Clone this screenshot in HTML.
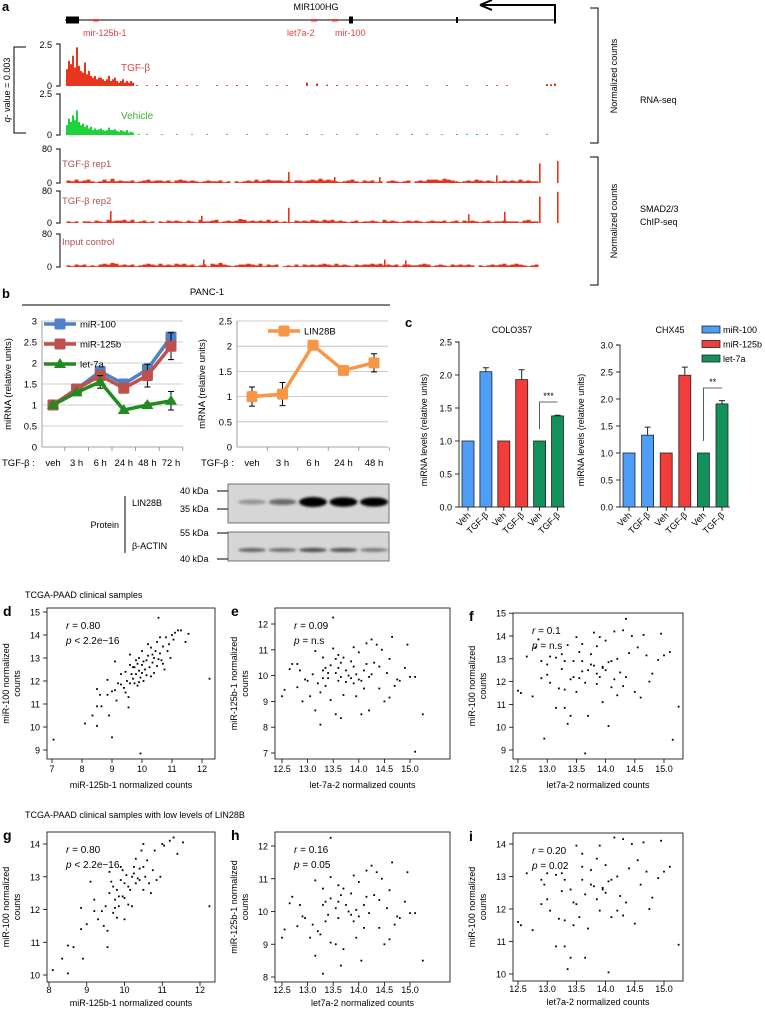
<!DOCTYPE html>
<html><head><meta charset="utf-8"><style>
html,body{margin:0;padding:0;background:#fff;}
svg{display:block;font-family:"Liberation Sans",Arial,sans-serif;}
text{font-family:"Liberation Sans",Arial,sans-serif;}
</style></head><body>
<svg id="fig" width="765" height="1010" viewBox="0 0 765 1010" xmlns="http://www.w3.org/2000/svg">
<defs><filter id="blur" x="-20%" y="-100%" width="140%" height="300%"><feGaussianBlur stdDeviation="1.3"/></filter></defs>

<g font-size="9">
<text x="2" y="11" font-size="13" font-weight="bold">a</text>
<text x="316" y="10" text-anchor="middle">MIR100HG</text>
<line x1="65" y1="20" x2="556" y2="20" stroke="#000" stroke-width="1"/>
<rect x="66" y="16.5" width="13" height="7" fill="#000"/>
<rect x="349" y="16.5" width="4" height="7" fill="#000"/>
<rect x="456" y="17" width="2" height="6" fill="#000"/>
<rect x="554" y="16.5" width="2" height="7" fill="#000"/>
<path d="M555 20 V5 H482" fill="none" stroke="#000" stroke-width="2"/>
<path d="M480 5 L492 0 M480 5 L492 10" stroke="#000" stroke-width="2" fill="none"/>
<rect x="93" y="19" width="6" height="2.5" fill="#e84040"/>
<rect x="311" y="19" width="6" height="2.5" fill="#e84040"/>
<rect x="332" y="19" width="6" height="2.5" fill="#e84040"/>
<text x="83" y="36" fill="#e84040">mir-125b-1</text>
<text x="287" y="36" fill="#e84040">let7a-2</text>
<text x="335" y="36" fill="#e84040">mir-100</text>
<path d="M56 44 H60 V86 H56 M56 94 H60 V135 H56" fill="none" stroke="#000"/>
<text x="52" y="48" text-anchor="end">2.5</text>
<text x="52" y="89" text-anchor="end">0</text>
<text x="52" y="97" text-anchor="end">2.5</text>
<text x="52" y="138" text-anchor="end">0</text>
<path d="M26 47 H14 V133 H26" fill="none" stroke="#000"/>
<text transform="translate(10,90) rotate(-90)" text-anchor="middle"><tspan font-style="italic">q</tspan>- value = 0.003</text>
<text x="121" y="71" fill="#e84040" font-size="10">TGF-β</text>
<text x="121" y="119" fill="#3cb431" font-size="10">Vehicle</text>
<path d="M56 149 H60 V183 H56 M56 191 H60 V223 H56 M56 234 H60 V267 H56" fill="none" stroke="#000"/>
<text x="52" y="152" text-anchor="end">80</text>
<text x="52" y="186" text-anchor="end">0</text>
<text x="52" y="194" text-anchor="end">80</text>
<text x="52" y="226" text-anchor="end">0</text>
<text x="52" y="237" text-anchor="end">80</text>
<text x="52" y="270" text-anchor="end">0</text>
<text x="62" y="167" fill="#b0504a" font-size="9.5">TGF-β rep1</text>
<text x="62" y="204" fill="#b0504a" font-size="9.5">TGF-β rep2</text>
<text x="62" y="245" fill="#b0504a" font-size="9.5">Input control</text>
<path d="M590 8 H598 V143 H590" fill="none" stroke="#000"/>
<path d="M590 157 H598 V285 H590" fill="none" stroke="#000"/>
<text transform="translate(617,76) rotate(-90)" text-anchor="middle">Normalized counts</text>
<text transform="translate(617,221) rotate(-90)" text-anchor="middle">Normalized counts</text>
<text x="640" y="103">RNA-seq</text>
<text x="640" y="212">SMAD2/3</text>
<text x="640" y="225">ChIP-seq</text>
</g>
<g id="tracks"></g>

<g font-size="9.5">
<text x="2" y="298" font-size="13" font-weight="bold">b</text>
<text x="207" y="295" text-anchor="middle">PANC-1</text>
<line x1="22" y1="305" x2="390" y2="305" stroke="#000"/>
<text transform="translate(11,384) rotate(-90)" text-anchor="middle">miRNA (relative units)</text>
<text transform="translate(205,384) rotate(-90)" text-anchor="middle">mRNA (relative units)</text>
<text x="2" y="466">TGF-β :</text>
<text x="201" y="466">TGF-β :</text>
</g>
<g id="bcharts" font-size="9.5"></g>

<g font-size="9">
<rect x="228" y="484" width="161" height="39" fill="#d6d6d6" stroke="#555" stroke-width="0.8"/>
<rect x="228" y="532" width="161" height="29" fill="#d6d6d6" stroke="#555" stroke-width="0.8"/>
<line x1="125" y1="496" x2="125" y2="553" stroke="#000"/>
<text x="119" y="528" text-anchor="end">Protein</text>
<text x="132" y="506">LIN28B</text>
<text x="132" y="549">β-ACTIN</text>
<text x="180" y="494">40 kDa</text>
<text x="180" y="512">35 kDa</text>
<text x="180" y="536">55 kDa</text>
<text x="180" y="562">40 kDa</text>
<path d="M217 491 H228 M217 509 H228 M217 533 H228 M217 559 H228" stroke="#000"/>
</g>
<g id="bands"></g>

<g font-size="9">
<text x="405" y="327" font-size="13" font-weight="bold">c</text>
<text x="512" y="333" text-anchor="middle">COLO357</text>
<text x="670" y="333" text-anchor="middle">CHX45</text>
<text transform="translate(427,430) rotate(-90)" text-anchor="middle">miRNA levels (relative units)</text>
<text transform="translate(584,430) rotate(-90)" text-anchor="middle">miRNA levels (relative units)</text>
</g>
<g id="ccharts" font-size="9"></g>

<g font-size="9">
<text x="25" y="598">TCGA-PAAD clinical samples</text>
<text x="25" y="818">TCGA-PAAD clinical samples with low levels of LIN28B</text>
</g>
<g id="scatters" font-size="9"></g>
</svg>

<script>
// ===== DATA =====
const tgfPos = [0,2,4,6,8,10,12,14,16,18,20,22,24,26,28,30,32,34,36,38,40,42,44,46,48,50,52,54,56,58,60,62,64,66];
const tgfVal = [1.0,1.5,1.3,1.8,1.1,2.3,1.2,0.9,0.8,1.4,0.7,0.9,0.6,0.5,0.6,0.4,0.5,0.5,0.4,0.3,0.4,0.6,0.3,0.4,0.5,0.3,0.2,0.3,0.4,0.2,0.3,0.2,0.3,0.2];
const tgfSparsePos = [70,80,90,100,110,120,130,150,160,170,180,200,210,220,240,250,260,270,280,290,300,310,320,330,340,360,380,400,420,430,440,480,484,488];
const tgfSparseVal = [0.05,0.05,0.06,0.05,0.05,0.05,0.04,0.05,0.05,0.06,0.05,0.05,0.04,0.05,0.2,0.15,0.08,0.06,0.05,0.05,0.05,0.04,0.05,0.05,0.05,0.04,0.05,0.04,0.05,0.05,0.05,0.12,0.1,0.15];
const vehPos = [0,2,4,6,8,10,12,14,16,18,20,22,24,26,28,30,32,34,36,38,40,42,44,46,48,50,52,54,56,58,60,62,64,66];
const vehVal = [0.6,1.0,0.8,1.2,0.9,1.5,0.8,0.6,0.7,0.5,0.6,0.4,0.5,0.3,0.4,0.3,0.35,0.4,0.3,0.25,0.3,0.45,0.3,0.3,0.35,0.25,0.2,0.3,0.25,0.2,0.3,0.15,0.2,0.15];
const vehSparsePos = [72,80,95,110,125,140,160,180,200,220,240,255,270,290,310,330,345,360,375,390,400,410,420,435,450,480];
const vehSparseVal = [0.05,0.05,0.05,0.05,0.04,0.05,0.05,0.04,0.05,0.05,0.06,0.05,0.05,0.05,0.05,0.05,0.06,0.05,0.05,0.06,0.05,0.06,0.05,0.05,0.05,0.05];
const rep1Noise = "3242342124252322312342332313432321232231202123242343332313323435343212342132312023212302324443543212324323212323242322";
const rep2Noise = "2120221321423342412312021323213214223412323542323242312113232432434232123122321423212323212322312313232123122322213422";
const inputNoise = "2132312134354232312343242324342312314353212334324132301213132323432423213233434232313322343123213232320212323423432123";
const rep1PeakPos = [222,268,313,430,473,491];
const rep1PeakVal = [26,14,14,18,46,52];
const rep2PeakPos = [44,135,222,402,438,473,491];
const rep2PeakVal = [30,18,38,22,28,66,78];
const inputPeakPos = [137,318,339];
const inputPeakVal = [18,18,16];

const bTimesL = ["veh","3 h","6 h","24 h","48 h","72 h"];
const mir100 = [1.0,1.38,1.8,1.5,1.85,2.62];
const mir100Err = [0,0.03,0.1,0.05,0.12,0.08];
const mir125b = [1.0,1.38,1.7,1.4,1.7,2.4];
const mir125bErr = [0,0.05,0.1,0.06,0.27,0.32];
const let7a = [1.0,1.3,1.55,0.88,1.0,1.1];
const let7aErr = [0,0.04,0.15,0.03,0.05,0.22];
const bTicksL = [0,0.5,1,1.5,2,2.5,3];
const bTimesR = ["veh","3 h","6 h","24 h","48 h"];
const lin28b = [1.0,1.05,2.02,1.52,1.67];
const lin28bErr = [0.19,0.23,0.06,0.03,0.18];
const bTicksR = [0,0.5,1,1.5,2,2.5];
const blotLin = [0.15,0.35,1.0,0.9,0.85];
const blotActin = [0.55,0.5,0.65,0.62,0.45];

const cCats = ["Veh","TGF-β","Veh","TGF-β","Veh","TGF-β"];
const coloVals = [1.0,2.05,1.0,1.93,1.0,1.38];
const coloErr = [0,0.06,0,0.15,0,0.01];
const coloTicks = [0,0.5,1.0,1.5,2.0,2.5];
const chxVals = [1.0,1.33,1.0,2.44,1.0,1.91];
const chxErr = [0,0.15,0,0.15,0,0.06];
const chxTicks = [0,0.5,1.0,1.5,2.0,2.5,3.0];
const cSeries = ["miR-100","miR-125b","let-7a"];

const dPts = [[7.05,9.45],[8.1,10.15],[8.35,10.5],[8.5,10.05],[8.5,10.9],[8.5,11.65],[8.6,11.4],[8.65,10.9],[8.85,11.4],[8.85,12.05],[8.9,10.5],[9.0,9.55],[9.0,11.55],[9.1,11.6],[9.1,12.85],[9.15,11.15],[9.2,11.9],[9.3,12.3],[9.4,11.7],[9.45,12.4],[9.5,12.0],[9.55,10.85],[9.55,11.3],[9.6,12.7],[9.6,13.15],[9.7,12.1],[9.7,12.6],[9.75,11.9],[9.8,12.3],[9.8,12.9],[9.85,11.8],[9.9,12.45],[9.9,13.0],[9.95,12.15],[9.95,8.85],[10.0,12.7],[10.0,13.3],[10.05,12.0],[10.1,12.5],[10.15,12.9],[10.2,13.1],[10.25,12.6],[10.3,13.45],[10.3,12.2],[10.35,12.8],[10.4,13.0],[10.45,13.3],[10.5,12.65],[10.5,13.7],[10.55,14.75],[10.6,13.2],[10.65,12.9],[10.7,13.5],[10.75,12.5],[10.8,13.9],[10.85,13.3],[10.95,13.0],[11.0,14.0],[11.05,13.8],[11.1,14.1],[11.2,14.2],[11.3,14.2],[11.45,13.7],[11.55,14.05],[12.25,12.1],[10.2,13.6],[10.0,12.35],[9.75,12.6],[10.4,12.35],[10.6,13.9],[9.9,11.95],[9.65,12.3],[9.85,12.75],[10.05,12.85],[10.15,12.25],[10.35,13.15],[10.55,12.95],[10.7,12.75],[10.9,13.6],[9.6,11.9],[9.3,11.85],[9.45,11.5]];
const ePts = [[12.5,9.2],[12.55,9.45],[12.65,10.25],[12.7,10.45],[12.8,10.45],[12.85,10.2],[12.8,9.55],[12.9,9.0],[12.95,9.85],[13.0,9.8],[13.05,9.2],[13.1,10.05],[13.15,10.95],[13.15,8.65],[13.2,9.7],[13.25,9.35],[13.3,10.7],[13.3,10.2],[13.35,9.6],[13.35,10.3],[13.4,9.9],[13.45,10.4],[13.45,9.05],[13.5,12.25],[13.5,11.05],[13.55,10.1],[13.55,8.5],[13.6,10.8],[13.6,9.8],[13.65,10.5],[13.65,8.35],[13.7,10.7],[13.7,9.25],[13.75,10.2],[13.8,10.0],[13.85,10.55],[13.9,11.1],[13.9,9.7],[13.95,9.2],[14.0,10.9],[14.0,9.85],[14.05,8.5],[14.1,10.2],[14.1,9.5],[14.15,11.25],[14.2,9.95],[14.2,8.65],[14.25,11.4],[14.3,10.5],[14.35,11.2],[14.4,10.35],[14.4,9.5],[14.45,11.0],[14.5,9.0],[14.55,10.1],[14.6,10.65],[14.6,9.15],[14.65,11.5],[14.7,9.6],[14.75,9.85],[14.8,9.8],[14.9,10.3],[14.95,11.2],[15.0,9.95],[15.1,9.95],[15.1,7.05],[15.25,8.5],[13.25,8.1],[13.85,9.9],[14.15,10.45],[13.6,10.3],[13.95,10.05],[13.4,10.1],[13.55,10.65],[13.75,9.75],[14.05,9.8],[14.25,10.05],[13.3,9.9],[13.65,9.95],[13.9,10.35]];
const fPts = [[12.5,11.6],[12.55,11.5],[12.65,13.1],[12.75,11.35],[12.8,13.5],[12.85,13.85],[12.9,12.9],[12.9,12.15],[12.95,9.5],[13.0,12.75],[13.0,12.3],[13.05,13.1],[13.05,11.95],[13.15,10.85],[13.15,13.05],[13.2,11.7],[13.25,12.55],[13.25,13.2],[13.3,11.65],[13.3,10.85],[13.35,10.15],[13.35,13.6],[13.4,12.1],[13.4,10.5],[13.45,12.9],[13.5,11.55],[13.5,13.95],[13.55,12.15],[13.55,13.3],[13.6,12.45],[13.6,13.65],[13.65,8.85],[13.65,11.95],[13.7,10.5],[13.7,12.5],[13.75,13.2],[13.8,14.15],[13.8,12.7],[13.85,11.9],[13.85,13.55],[13.9,12.2],[13.9,13.95],[13.95,11.1],[13.95,12.6],[14.0,13.8],[14.0,12.5],[14.05,10.05],[14.1,11.75],[14.1,12.9],[14.15,14.2],[14.2,11.4],[14.2,13.0],[14.25,12.4],[14.3,14.25],[14.3,11.8],[14.35,14.75],[14.35,12.2],[14.4,13.25],[14.45,14.0],[14.5,11.55],[14.55,13.5],[14.6,11.3],[14.65,14.05],[14.7,13.15],[14.75,12.0],[14.8,12.35],[14.9,12.95],[14.95,14.1],[15.0,13.15],[15.1,13.3],[15.15,9.45],[15.25,10.9],[13.95,12.65],[14.05,12.85],[13.3,12.9],[13.45,12.2],[13.6,12.9],[13.75,12.75],[14.15,12.1],[13.85,12.35]];
const gPts = [[8.1,10.15],[8.35,10.5],[8.5,10.05],[8.5,10.9],[8.65,10.85],[8.85,11.4],[8.85,12.05],[8.9,10.5],[9.0,11.55],[9.1,12.85],[9.2,11.95],[9.2,12.3],[9.3,11.7],[9.4,11.95],[9.45,11.5],[9.5,12.1],[9.55,10.85],[9.55,11.35],[9.6,12.5],[9.6,13.15],[9.65,12.85],[9.7,11.9],[9.7,12.7],[9.75,12.3],[9.8,11.75],[9.8,12.6],[9.85,12.1],[9.9,12.9],[9.9,13.3],[9.95,12.4],[10.0,11.7],[10.0,12.8],[10.05,13.05],[10.1,12.15],[10.15,12.6],[10.2,13.0],[10.2,12.1],[10.25,13.3],[10.3,12.8],[10.3,13.55],[10.35,12.95],[10.4,13.25],[10.45,13.8],[10.5,12.6],[10.5,13.3],[10.55,13.0],[10.6,13.5],[10.65,12.8],[10.7,12.5],[10.75,13.2],[10.8,13.8],[10.85,12.9],[10.95,13.0],[11.0,14.0],[11.05,13.95],[11.2,14.1],[11.3,14.2],[11.4,13.7],[11.55,14.05],[12.25,12.1],[10.5,14.0],[9.85,12.4],[10.1,12.7],[9.75,12.05],[10.0,12.35],[10.25,13.1],[10.4,12.9],[9.95,13.2]];
const hPts = [[12.5,9.2],[12.55,9.45],[12.65,10.25],[12.7,10.45],[12.85,10.2],[12.8,9.55],[12.9,9.85],[12.95,9.8],[13.05,9.2],[13.1,9.6],[13.15,10.95],[13.15,8.65],[13.2,9.4],[13.25,9.3],[13.3,10.7],[13.3,10.2],[13.35,9.7],[13.35,10.3],[13.4,9.9],[13.45,10.4],[13.45,9.05],[13.45,12.25],[13.45,11.05],[13.55,10.1],[13.55,9.0],[13.6,10.8],[13.6,9.8],[13.65,10.5],[13.65,8.35],[13.7,10.7],[13.7,8.85],[13.75,10.2],[13.8,10.0],[13.85,10.55],[13.9,11.1],[13.9,9.7],[13.95,9.2],[14.0,10.9],[14.0,9.85],[14.05,8.5],[14.1,10.2],[14.1,9.5],[14.15,11.25],[14.2,9.95],[14.25,11.4],[14.3,10.5],[14.35,11.2],[14.4,10.35],[14.4,9.5],[14.45,11.0],[14.5,9.0],[14.55,10.1],[14.6,10.65],[14.6,9.15],[14.65,11.5],[14.7,9.6],[14.75,9.85],[14.8,9.8],[14.9,10.3],[14.95,11.2],[15.0,9.95],[15.1,9.95],[15.25,8.5],[13.3,8.1],[13.85,9.9],[14.15,10.45],[13.6,10.3],[13.95,10.05]];
const iPts = [[12.5,11.6],[12.55,11.5],[12.65,13.1],[12.75,11.35],[12.9,12.9],[12.9,12.15],[12.95,12.75],[13.0,12.3],[13.0,13.1],[13.05,11.95],[13.15,10.85],[13.15,13.05],[13.2,11.7],[13.25,12.55],[13.25,13.1],[13.3,11.65],[13.3,10.85],[13.35,10.15],[13.4,10.5],[13.4,12.6],[13.45,11.5],[13.5,13.95],[13.5,12.15],[13.55,11.75],[13.6,13.3],[13.6,13.7],[13.65,12.45],[13.65,10.5],[13.7,11.4],[13.75,13.2],[13.8,12.7],[13.85,12.3],[13.85,13.55],[13.9,11.95],[13.9,13.95],[13.95,12.6],[14.0,12.5],[14.0,13.35],[14.05,10.05],[14.1,11.75],[14.1,12.9],[14.15,14.2],[14.2,11.95],[14.2,13.0],[14.25,12.4],[14.3,14.15],[14.3,11.8],[14.35,12.2],[14.4,13.25],[14.45,14.0],[14.5,11.55],[14.55,13.5],[14.6,12.75],[14.65,14.05],[14.7,13.15],[14.75,12.0],[14.8,12.35],[14.9,12.95],[14.95,14.1],[15.0,13.15],[15.1,13.3],[15.25,10.9],[13.95,12.65],[14.05,12.85],[13.3,12.9],[13.45,12.2],[13.6,12.9],[13.75,12.75]];

// ===== DRAW =====
const NS = "http://www.w3.org/2000/svg";
function mk(parent, tag, attrs){const e=document.createElementNS(NS,tag);for(const k in attrs)e.setAttribute(k,attrs[k]);parent.appendChild(e);return e;}

const tracks = document.getElementById('tracks');
const tx = p => 66 + p;
function rnaBars(pos, vals, y0, yTop, color, name){
  const s = (y0 - yTop) / 2.5;
  pos.forEach((p,i)=>{
    const h = Math.max(0.8, vals[i]*s);
    const r = mk(tracks,'rect',{x:tx(p),y:y0-h,width:2,height:h,fill:color});
    
    
  });
}
rnaBars(tgfPos, tgfVal, 86, 44, '#e8361e', 'tgf-coverage-bar');
rnaBars(tgfSparsePos, tgfSparseVal, 86, 44, '#e8361e', 'tgf-coverage-bar');
rnaBars(vehPos, vehVal, 135, 94, '#1ed23c', 'vehicle-coverage-bar');
rnaBars(vehSparsePos, vehSparseVal, 135, 94, '#1ed23c', 'vehicle-coverage-bar');
function chip(noise, peakPos, peakVal, y0, yTop, name){
  const s = (y0 - yTop) / 80;
  for (let i=0;i<noise.length;i++){
    const v = +noise[i] * 2;
    if (v===0) continue;
    const h = v*s;
    const r = mk(tracks,'rect',{x:tx(i*4+0.5),y:y0-h,width:4,height:h,fill:'#e8321e'});
    
    
  }
  peakPos.forEach((p,i)=>{
    const h = peakVal[i]*s;
    const r = mk(tracks,'rect',{x:tx(p),y:y0-h,width:1.6,height:h,fill:'#e8321e'});
    
    
  });
}
chip(rep1Noise, rep1PeakPos, rep1PeakVal, 183, 149, 'rep1');
chip(rep2Noise, rep2PeakPos, rep2PeakVal, 223, 191, 'rep2');
chip(inputNoise, inputPeakPos, inputPeakVal, 267, 234, 'input');

const bg = document.getElementById('bcharts');
function lineChart(o){
  const yS = v => o.y0 - v*o.ppu;
  const xS = i => o.xStart + i*o.step;
  o.ticks.forEach(t=>{
    const gl = mk(bg,'line',{x1:o.ax,x2:o.axEnd,y1:yS(t),y2:yS(t),stroke:t===0?'#888':'#bbb','stroke-width':0.8});
    
    
    const tl = mk(bg,'text',{x:o.ax-5,y:yS(t)+3.5,'text-anchor':'end'});
    tl.textContent = t;
    
    
  });
  const axl = mk(bg,'line',{x1:o.ax,x2:o.ax,y1:yS(o.ticks[o.ticks.length-1]),y2:o.y0,stroke:'#888','stroke-width':0.8});
  
  
  o.cats.forEach((c,i)=>{
    const t = mk(bg,'text',{x:xS(i),y:466,'text-anchor':'middle'});
    t.textContent = c;
    
    
    const tk = mk(bg,'line',{x1:xS(i)+o.step/2,x2:xS(i)+o.step/2,y1:o.y0,y2:o.y0+4,stroke:'#888','stroke-width':0.8});
    
    
  });
  o.series.forEach(s=>{
    s.vals.forEach((v,i)=>{ if(s.err[i]>0){
      const e = mk(bg,'path',{d:`M${xS(i)} ${yS(v-s.err[i])} V${yS(v+s.err[i])} M${xS(i)-3} ${yS(v-s.err[i])} H${xS(i)+3} M${xS(i)-3} ${yS(v+s.err[i])} H${xS(i)+3}`,stroke:'#000','stroke-width':1,fill:'none'});
      
      
    }});
    const pl = mk(bg,'polyline',{points:s.vals.map((v,i)=>xS(i)+','+yS(v)).join(' '),fill:'none',stroke:s.color,'stroke-width':3.5});
    
    
    s.vals.forEach((v,i)=>{
      let m;
      if(s.tri) m = mk(bg,'path',{d:`M${xS(i)} ${yS(v)-6} L${xS(i)+6} ${yS(v)+4} L${xS(i)-6} ${yS(v)+4}Z`,fill:s.color});
      else m = mk(bg,'rect',{x:xS(i)-5.5,y:yS(v)-5.5,width:11,height:11,rx:1.5,fill:s.color});
      
      
    });
  });
  o.series.forEach((s,k)=>{
    const ly = o.legY + k*20;
    const ll = mk(bg,'line',{x1:o.legX,x2:o.legX+32,y1:ly,y2:ly,stroke:s.color,'stroke-width':3.5});
    
    
    let m;
    if(s.tri) m = mk(bg,'path',{d:`M${o.legX+16} ${ly-6} L${o.legX+22} ${ly+4} L${o.legX+10} ${ly+4}Z`,fill:s.color});
    else m = mk(bg,'rect',{x:o.legX+10.5,y:ly-5.5,width:11,height:11,rx:1.5,fill:s.color});
    
    
    const t = mk(bg,'text',{x:o.legX+36,y:ly+3.5});
    t.textContent = s.name;
    
    
  });
}
lineChart({ax:42,axEnd:183,y0:447,ppu:42,xStart:53,step:23.6,cats:bTimesL,ticks:bTicksL,legX:44,legY:324,
  series:[{name:'miR-100',vals:mir100,err:mir100Err,color:'#4f81c4'},{name:'miR-125b',vals:mir125b,err:mir125bErr,color:'#c0504d'},{name:'let-7a',vals:let7a,err:let7aErr,color:'#1e8c1e',tri:true}]});
lineChart({ax:237,axEnd:388,y0:447,ppu:50.4,xStart:252,step:30.5,cats:bTimesR,ticks:bTicksR,legX:268,legY:331,
  series:[{name:'LIN28B',vals:lin28b,err:lin28bErr,color:'#f79646'}]});

const bands = document.getElementById('bands');
const laneX = i => 252 + i*30.5;
blotLin.forEach((v,i)=>{
  const b = mk(bands,'ellipse',{cx:laneX(i),cy:502,rx:14,ry:2+3*v,fill:'#000','fill-opacity':Math.min(1,0.15+v),filter:'url(#blur)'});
  
  
});
blotActin.forEach((v,i)=>{
  const b = mk(bands,'ellipse',{cx:laneX(i),cy:550,rx:14,ry:1.3+1.2*v,fill:'#000','fill-opacity':v,filter:'url(#blur)'});
  
  
});

const cg = document.getElementById('ccharts');
const cColors = ['#4d9ef7','#f23d3d','#12925a'];
function barChart(o){
  const yS = v => o.y0 - v*o.ppu;
  const xS = i => o.x0 + i*o.step;
  const ax = mk(cg,'path',{d:`M${o.ax-4} ${yS(o.ticks[o.ticks.length-1])} H${o.ax} V${o.y0} H${o.axEnd}`,fill:'none',stroke:'#000','stroke-width':0.8});
  
  
  o.ticks.forEach(t=>{
    const tk = mk(cg,'line',{x1:o.ax-4,x2:o.ax,y1:yS(t),y2:yS(t),stroke:'#000','stroke-width':0.8});
    
    
    const tl = mk(cg,'text',{x:o.ax-7,y:yS(t)+3.5,'text-anchor':'end'});
    tl.textContent = t.toFixed(1);
    
    
  });
  o.vals.forEach((v,i)=>{
    const r = mk(cg,'rect',{x:xS(i)-6,y:yS(v),width:12,height:o.y0-yS(v),fill:cColors[Math.floor(i/2)],stroke:'#222','stroke-width':0.8});
    
    
    if(o.err[i]>0){
      const e = mk(cg,'path',{d:`M${xS(i)} ${yS(v)} V${yS(v+o.err[i])} M${xS(i)-3} ${yS(v+o.err[i])} H${xS(i)+3}`,stroke:'#222','stroke-width':1,fill:'none'});
      
      
    }
    const tk = mk(cg,'line',{x1:xS(i),x2:xS(i),y1:o.y0,y2:o.y0+4,stroke:'#000','stroke-width':0.8});
    
    
    const t = mk(cg,'text',{transform:`translate(${xS(i)+3},${o.y0+9}) rotate(-45)`,'text-anchor':'end'});
    t.textContent = o.cats[i];
    
    
  });
  const sx = xS(4), ex = xS(5), top = o.sigY;
  const br = mk(cg,'path',{d:`M${sx} ${yS(1)-12} V${top} H${ex}`,fill:'none',stroke:'#333','stroke-width':0.8});
  
  
  const st = mk(cg,'text',{x:(sx+ex)/2,y:top-3,'text-anchor':'middle'});
  st.textContent = o.sig;
  
  
}
barChart({ax:459,axEnd:565,y0:507,ppu:66,x0:468,step:17.9,vals:coloVals,err:coloErr,ticks:coloTicks,cats:cCats,sig:'***',sigY:402});
barChart({ax:620,axEnd:730,y0:507,ppu:54,x0:629,step:18.6,vals:chxVals,err:chxErr,ticks:chxTicks,cats:cCats,sig:'**',sigY:388});
cSeries.forEach((s,k)=>{
  const r = mk(cg,'rect',{x:702,y:326+k*14.5,width:18,height:7,fill:cColors[k],stroke:'#222','stroke-width':0.8});
  
  
  const t = mk(cg,'text',{x:723,y:333+k*14.5,'font-size':9});
  t.textContent = s;
  
  
});

const sg = document.getElementById('scatters');
function scatter(o){
  const xS = v => o.xa[1] + (v-o.xa[0])*o.xppu;
  const yS = v => o.ya[1] - (v-o.ya[0])*o.yppu;
  const box = mk(sg,'rect',{x:o.box[0],y:o.box[1],width:o.box[2]-o.box[0],height:o.box[3]-o.box[1],fill:'none',stroke:'#000','stroke-width':0.8});
  
  
  const lab = mk(sg,'text',{x:o.box[0]-44,y:o.box[1]+8,'font-size':14,'font-weight':'bold'});
  lab.textContent = o.label;
  
  
  o.xt.forEach(t=>{
    const tk = mk(sg,'line',{x1:xS(t),x2:xS(t),y1:o.box[3],y2:o.box[3]+4,stroke:'#000','stroke-width':0.8});
    
    
    const tl = mk(sg,'text',{x:xS(t),y:o.box[3]+o.tlOff,'text-anchor':'middle'});
    tl.textContent = o.xfix ? t.toFixed(1) : t;
    
    
  });
  o.yt.forEach(t=>{
    const tk = mk(sg,'line',{x1:o.box[0]-4,x2:o.box[0],y1:yS(t),y2:yS(t),stroke:'#000','stroke-width':0.8});
    
    
    const tl = mk(sg,'text',{x:o.box[0]-7,y:yS(t)+3.5,'text-anchor':'end'});
    tl.textContent = t;
    
    
  });
  const xt = mk(sg,'text',{x:(o.box[0]+o.box[2])/2,y:o.box[3]+o.ttOff,'text-anchor':'middle'});
  xt.textContent = o.xtitle;
  
  
  const cy = (o.box[1]+o.box[3])/2;
  const y1 = mk(sg,'text',{transform:`translate(${o.box[0]-38},${cy}) rotate(-90)`,'text-anchor':'middle'});
  y1.textContent = o.ytitle;
  
  
  const y2 = mk(sg,'text',{transform:`translate(${o.box[0]-27},${cy}) rotate(-90)`,'text-anchor':'middle'});
  y2.textContent = 'counts';
  
  
  const r = mk(sg,'text',{x:o.box[0]+19,y:o.box[1]+21,'font-size':10});
  const ri = mk(r,'tspan',{'font-style':'italic'});
  ri.textContent = 'r';
  r.appendChild(document.createTextNode(' = '+o.r));
  
  
  const p = mk(sg,'text',{x:o.box[0]+19,y:o.box[1]+36,'font-size':10});
  const pi = mk(p,'tspan',{'font-style':'italic'});
  pi.textContent = 'p';
  p.appendChild(document.createTextNode(' '+o.p));
  
  
  o.pts.forEach(pt=>{
    const c = mk(sg,'rect',{x:xS(pt[0])-0.9,y:yS(pt[1])-0.9,width:1.8,height:1.8,fill:'#000'});
    
    
  });
}
scatter({label:'d',box:[47,608,215,759],tlOff:13,ttOff:29,xa:[7,52],xppu:30,ya:[9,750],yppu:23,xt:[7,8,9,10,11,12],yt:[9,10,11,12,13,14,15],pts:dPts,xtitle:'miR-125b-1 normalized counts',ytitle:'miR-100 normalized',r:'0.80',p:'< 2.2e−16'});
scatter({label:'e',box:[275,608,450,759],tlOff:13,ttOff:29,xa:[12.5,282],xppu:51.2,ya:[7,753],yppu:25.8,xt:[12.5,13,13.5,14,14.5,15],xfix:true,yt:[7,8,9,10,11,12],pts:ePts,xtitle:'let-7a-2 normalized counts',ytitle:'miR-125b-1 normalized',r:'0.09',p:'= n.s'});
scatter({label:'f',box:[513,613,683,759],tlOff:13,ttOff:29,xa:[12.5,518],xppu:58.4,ya:[9,750],yppu:22.8,xt:[12.5,13,13.5,14,14.5,15],xfix:true,yt:[9,10,11,12,13,14,15],pts:fPts,xtitle:'let7a-2 normalized counts',ytitle:'miR-100 normalized',r:'0.1',p:'= n.s'});
scatter({label:'g',box:[47,832,215,982],tlOff:11,ttOff:24,xa:[8,49],xppu:37.75,ya:[10,975],yppu:32.75,xt:[8,9,10,11,12],yt:[10,11,12,13,14],pts:gPts,xtitle:'miR-125b-1 normalized counts',ytitle:'miR-100 normalized',r:'0.80',p:'< 2.2e−16'});
scatter({label:'h',box:[275,832,450,982],tlOff:11,ttOff:24,xa:[12.5,282],xppu:51.2,ya:[8,977],yppu:32.75,xt:[12.5,13,13.5,14,14.5,15],xfix:true,yt:[8,9,10,11,12],pts:hPts,xtitle:'let7a-2 normalized counts',ytitle:'miR-125b-1 normalized',r:'0.16',p:'= 0.05'});
scatter({label:'i',box:[513,833,683,981],tlOff:11,ttOff:24,xa:[12.5,518],xppu:58.4,ya:[10,974],yppu:32.5,xt:[12.5,13,13.5,14,14.5,15],xfix:true,yt:[10,11,12,13,14],pts:iPts,xtitle:'let7a-2 normalized counts',ytitle:'miR-100 normalized',r:'0.20',p:'= 0.02'});
</script>
</body></html>
